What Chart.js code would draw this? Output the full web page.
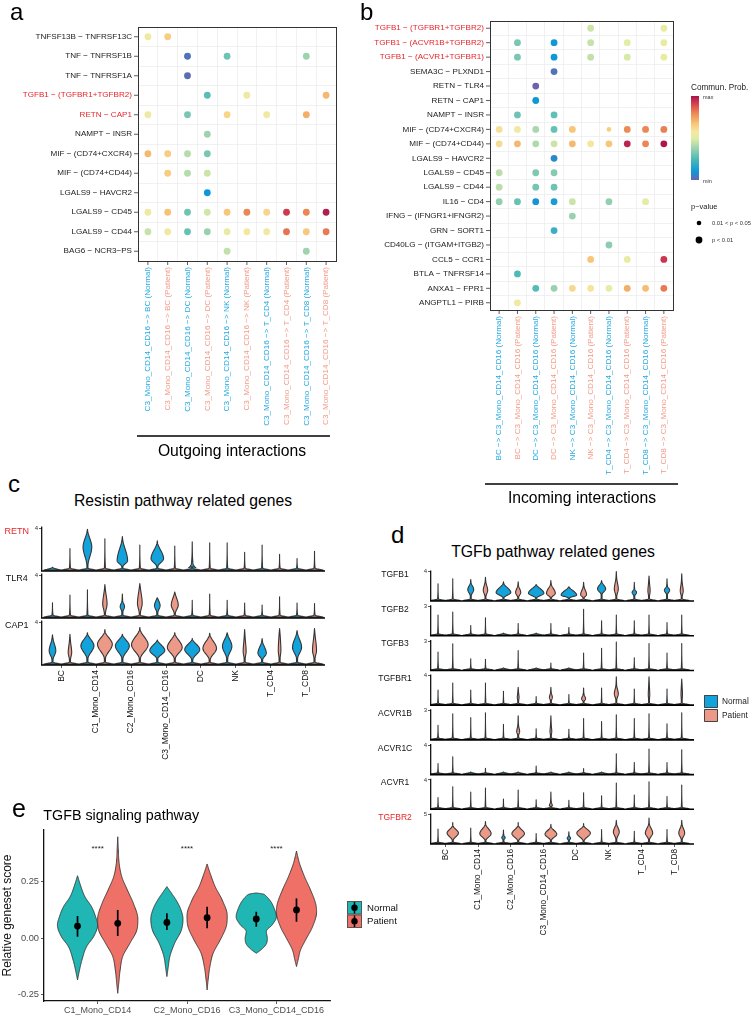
<!DOCTYPE html>
<html><head><meta charset="utf-8">
<script src="https://cdn.jsdelivr.net/npm/chart.js@4.4.0/dist/chart.umd.min.js"></script>
<style>
html,body{margin:0;padding:0;background:#fff;}
#fig{position:relative;width:752px;height:1016px;overflow:hidden;background:#fff;font-family:"Liberation Sans",Arial,sans-serif;}
canvas{position:absolute;}
.t{position:absolute;white-space:nowrap;color:#000;}
</style></head><body><div id="fig"></div>
<script>
const FONT='"Liberation Sans", Arial, Helvetica, sans-serif';
const RED='#e8262b', NORMAL_TXT='#21a9e1', PATIENT_TXT='#f29a88';
const VBLUE='#12a3dc', VSALMON='#ec9987', ETEAL='#1fb6b3', ESALMON='#ee7066';

// ---------- Panel a data ----------
const aRows=['TNFSF13B − TNFRSF13C','TNF − TNFRSF1B','TNF − TNFRSF1A','TGFB1 − (TGFBR1+TGFBR2)','RETN − CAP1','NAMPT − INSR','MIF − (CD74+CXCR4)','MIF − (CD74+CD44)','LGALS9 − HAVCR2','LGALS9 − CD45','LGALS9 − CD44','BAG6 − NCR3−PS'];
const aRedRows=[3,4];
const targets=['BC','DC','NK','T_CD4','T_CD8'];
const conditions=['Normal','Patient'];
const aCols=[]; targets.forEach(t=>conditions.forEach(c=>aCols.push('C3_Mono_CD14_CD16 −> '+t+' ('+c+')')));
const aProb=[
 [0.55,0.65,null,null,null,null,null,null,null,null],
 [null,null,0.03,null,0.30,null,null,null,0.38,null],
 [null,null,0.02,null,null,null,null,null,null,null],
 [null,null,null,0.27,null,0.55,null,null,null,0.70],
 [0.54,null,0.32,null,0.63,null,0.56,null,0.72,null],
 [null,null,null,0.38,null,null,null,null,null,null],
 [0.70,0.65,0.42,0.32,null,null,null,null,null,null],
 [null,0.65,0.42,0.46,null,null,null,null,null,null],
 [null,null,null,0.10,null,null,null,null,null,null],
 [0.55,0.68,0.30,0.47,0.67,0.80,0.63,0.92,0.80,0.98],
 [0.45,0.56,0.29,0.37,0.52,0.58,0.56,0.83,0.66,0.82],
 [null,null,null,null,0.44,null,null,null,0.38,null]
];
const aSmall=[];

// ---------- Panel b data ----------
const bRows=['TGFB1 − (TGFBR1+TGFBR2)','TGFB1 − (ACVR1B+TGFBR2)','TGFB1 − (ACVR1+TGFBR1)','SEMA3C − PLXND1','RETN − TLR4','RETN − CAP1','NAMPT − INSR','MIF − (CD74+CXCR4)','MIF − (CD74+CD44)','LGALS9 − HAVCR2','LGALS9 − CD45','LGALS9 − CD44','IL16 − CD4','IFNG − (IFNGR1+IFNGR2)','GRN − SORT1','CD40LG − (ITGAM+ITGB2)','CCL5 − CCR1','BTLA − TNFRSF14','ANXA1 − FPR1','ANGPTL1 − PIRB'];
const bRedRows=[0,1,2];
const bCols=[]; targets.forEach(t=>conditions.forEach(c=>bCols.push(t+' −> C3_Mono_CD14_CD16 ('+c+')')));
const bProb=[
 [null,null,null,null,null,0.46,null,null,null,0.53],
 [null,0.32,null,0.10,null,0.45,null,0.50,null,0.53],
 [null,0.32,null,0.10,null,0.44,null,0.48,null,0.53],
 [null,null,null,0.03,null,null,null,null,null,null],
 [null,null,0.00,null,null,null,null,null,null,null],
 [null,null,0.10,null,null,null,null,null,null,null],
 [null,0.30,null,0.28,null,null,null,null,null,null],
 [0.60,0.55,0.40,0.29,0.67,null,0.65,0.79,0.80,0.81],
 [0.61,0.70,0.41,0.46,0.70,0.58,0.67,0.96,0.80,0.99],
 [null,null,null,0.07,null,null,null,null,null,null],
 [0.43,null,0.33,0.34,null,null,null,null,null,null],
 [0.43,null,0.31,0.30,null,null,null,null,null,null],
 [0.36,0.29,0.09,0.12,0.46,null,0.36,null,0.51,null],
 [null,null,null,null,0.37,null,null,null,null,null],
 [null,null,null,0.20,null,null,null,null,null,null],
 [null,null,null,null,null,null,0.35,null,null,null],
 [null,null,null,null,null,0.67,null,0.52,null,0.93],
 [null,0.25,null,null,null,null,null,null,null,null],
 [null,null,0.26,0.37,0.62,0.59,0.52,0.72,0.69,0.82],
 [null,0.55,null,null,null,null,null,null,null,null]
];
const bSmall=[[7,6]]; // 0.01 < p < 0.05

// ---------- Panel c data (violin: tip value, body [lo, mid, hi, width]) ----------
const cellTypes=['BC','C1_Mono_CD14','C2_Mono_CD16','C3_Mono_CD14_CD16','DC','NK','T_CD4','T_CD8'];
const cGenes=['RETN','TLR4','CAP1'];
const cTicks=[4,4,4];
const tipRETN=[0,2.05,3.9,3.0,3.2,2.4,2.8,2.3,2.7,2.6,2.6,1.7,2.4,1.5,1.1,1.8];
const bodyRETN=[null,null,[0.4,2.2,3.6,0.5],null,[0.25,0.9,2.8,0.6],null,[0.3,1.1,2.5,0.72],null,[0.15,0.25,0.9,0.4],null,null,null,null,null,null,null];
const tipTLR4=[1.37,2.1,2.6,3.1,2.2,3.2,1.85,2.4,1.6,2.2,1.6,1.35,1.15,1.95,1.35,1.3];
const bodyTLR4=[null,null,null,[0.2,1.25,2.6,0.25],[0.5,1.0,1.5,0.25],[0.2,1.3,2.8,0.27],[0.4,1.1,1.75,0.32],[0.2,1.15,2.2,0.4],null,null,null,null,null,null,null,null];
const tipCAP1=[2.8,2.85,3.0,3.3,2.85,3.5,2.3,3.0,2.45,2.95,3.0,3.3,2.45,3.4,3.2,3.4];
const bodyCAP1=[[0.4,1.27,2.4,0.38],[0.4,1.1,2.2,0.2],[0.5,1.75,2.8,0.75],[0.5,1.9,3.0,0.85],[0.5,1.75,2.7,0.8],[0.5,1.85,3.2,0.95],[0.5,1.3,2.2,0.86],[0.5,1.6,2.8,0.85],[0.4,1.4,2.3,0.86],[0.4,1.5,2.7,0.78],[0.5,1.7,2.8,0.54],[0.5,1.2,2.5,0.17],[0.4,1.05,2.1,0.48],[0.5,1.3,2.8,0.15],[0.5,1.6,2.9,0.52],[0.5,1.3,2.8,0.23]];
const cTips=[tipRETN,tipTLR4,tipCAP1], cBodies=[bodyRETN,bodyTLR4,bodyCAP1];

// ---------- Panel d data ----------
const dGenes=['TGFB1','TGFB2','TGFB3','TGFBR1','ACVR1B','ACVR1C','ACVR1','TGFBR2'];
const dTicks=[4,3,3,4,3,4,4,5];
const tipTGFB1=[2.3,3.0,2.9,3.2,2.6,2.6,2.2,2.75,1.9,2.5,2.75,4.0,2.5,3.4,3.0,3.7];
const bodyTGFB1=[null,null,[0.6,1.5,2.4,0.4],[0.5,1.4,2.5,0.3],[0.35,1.1,2.3,1.0],[0.4,1.1,2.0,0.35],[0.3,1.0,2.1,1.05],[0.3,1.0,2.2,0.6],[0.3,0.75,1.8,1.05],[0.3,0.8,1.9,0.4],[0.8,1.6,2.5,0.55],[0.5,1.6,3.0,0.27],[0.6,1.1,1.6,0.3],[0.5,1.3,2.5,0.15],[0.8,1.4,2.0,0.36],[0.5,1.3,2.5,0.2]];
const tipTGFB2=[2.1,2.4,1.0,1.8,0,1.2,0,1.2,0.8,2.7,1.5,2.1,1.5,2.1,1.3,2.1];
const tipTGFB3=[1.85,2.7,1.15,1.1,0,2.0,0,0.7,0,1.75,2.25,2.9,1.25,2.75,1.75,2.75];
const tipTGFBR1=[2.0,3.0,2.0,3.0,1.85,2.4,1.1,2.4,1.4,2.3,2.3,3.85,2.15,3.85,2.15,3.55];
const bodyTGFBR1=[null,null,null,null,null,[0.5,1.0,1.6,0.12],null,[0.5,1.0,1.6,0.2],null,[0.4,0.8,1.4,0.27],null,[0.6,1.5,2.6,0.27],null,[0.6,1.4,2.4,0.1],null,[0.6,1.4,2.4,0.1]];
const tipACVR1B=[1.45,2.65,2.25,2.75,1.55,2.45,1.1,2.45,1.05,2.15,1.85,2.55,2.15,2.65,1.6,2.75];
const bodyACVR1B=[null,null,null,null,null,[0.4,0.8,1.4,0.2],null,[0.4,0.8,1.4,0.12],null,null,null,null,null,null,null,null];
const tipACVR1C=[1.45,2.4,0,0.8,0,0,1.1,0,0,0.75,0,2.8,1.6,3.45,1.6,3.35];
const tipACVR1=[1.55,3.05,2.3,2.85,1.35,2.6,1.25,2.3,1.15,2.2,1.8,3.55,1.9,3.75,1.7,3.3];
const bodyACVR1=[null,null,null,null,null,null,null,[0.2,0.4,0.9,0.2],null,null,null,null,null,null,null,null];
const tipTGFBR2=[2.5,3.6,2.65,3.8,2.3,3.6,1.7,3.3,2.0,3.45,2.4,4.0,2.1,4.4,2.4,4.0];
const bodyTGFBR2=[null,[0.5,1.8,3.0,0.77],null,[0.5,1.7,3.2,0.77],[0.6,1.0,1.4,0.23],[0.4,1.7,3.0,0.85],null,[0.5,1.6,2.8,0.8],[0.5,0.9,1.3,0.23],[0.4,1.8,3.0,0.92],null,[0.7,2.0,3.3,0.4],null,[0.6,1.8,3.3,0.5],null,[0.6,1.8,3.2,0.4]];
const noBody=new Array(16).fill(null);
const dTips=[tipTGFB1,tipTGFB2,tipTGFB3,tipTGFBR1,tipACVR1B,tipACVR1C,tipACVR1,tipTGFBR2];
const dBodies=[bodyTGFB1,noBody,noBody,bodyTGFBR1,bodyACVR1B,noBody,bodyACVR1,bodyTGFBR2];

// ---------- Panel e data (density outline: [score, relative half-width]) ----------
const eGroups=['C1_Mono_CD14','C2_Mono_CD16','C3_Mono_CD14_CD16'];
const eNormalShape=[
 [[-0.184,0],[-0.14,0.1],[-0.096,0.22],[-0.037,0.45],[0.007,0.8],[0.059,1.0],[0.095,0.9],[0.139,0.7],[0.183,0.37],[0.228,0.17],[0.276,0]],
 [[-0.169,0],[-0.125,0.07],[-0.08,0.15],[-0.023,0.38],[0.036,0.72],[0.085,0.8],[0.13,0.68],[0.17,0.45],[0.2,0.22],[0.228,0]],
 [[-0.066,0],[-0.05,0.25],[-0.025,0.5],[0.0,0.55],[0.03,0.5],[0.06,0.8],[0.095,1.0],[0.13,0.9],[0.165,0.7],[0.185,0.5],[0.196,0.3],[0.2,0]]
];
const ePatientShape=[
 [[-0.243,0],[-0.2,0.05],[-0.14,0.12],[-0.08,0.25],[-0.023,0.6],[0.036,0.95],[0.085,1.0],[0.154,0.78],[0.213,0.48],[0.272,0.2],[0.331,0.07],[0.4,0.025],[0.448,0]],
 [[-0.228,0],[-0.184,0.05],[-0.125,0.14],[-0.066,0.3],[-0.008,0.65],[0.051,0.95],[0.1,1.0],[0.169,0.75],[0.228,0.4],[0.287,0.15],[0.328,0]],
 [[-0.125,0],[-0.096,0.08],[-0.052,0.2],[-0.008,0.45],[0.051,0.8],[0.117,1.0],[0.154,0.95],[0.213,0.7],[0.272,0.4],[0.331,0.15],[0.385,0]]
];
const eNormalMean=[0.054,0.070,0.085], eNormalLow=[0.007,0.037,0.051], eNormalHigh=[0.098,0.110,0.117];
const ePatientMean=[0.066,0.091,0.125], ePatientLow=[0.010,0.044,0.073], ePatientHigh=[0.125,0.139,0.176];
const eSig=['****','****','****'];
const eTicks=[-0.25,0,0.25];

// ---------- helpers ----------
const fig=document.getElementById('fig');
function addCanvas(left,top,w,h){const c=document.createElement('canvas');c.width=w;c.height=h;c.style.left=left+'px';c.style.top=top+'px';c.style.width=w+'px';c.style.height=h+'px';fig.appendChild(c);return c;}
function addText(str,x,baseline,size,align,color){const d=document.createElement('div');d.className='t';d.textContent=str;d.style.fontSize=size+'px';d.style.lineHeight=size+'px';d.style.top=(baseline-0.8465*size)+'px';d.style.color=color||'#000';d.style.left=x+'px';if(align==='center')d.style.transform='translateX(-50%)';fig.appendChild(d);}
const specStops=[[0,'#6c63ad'],[0.1,'#0f98d7'],[0.25,'#4dbab7'],[0.38,'#9fd3ae'],[0.5,'#e2eda5'],[0.58,'#f6e7a0'],[0.68,'#f7c274'],[0.8,'#ec8653'],[0.9,'#d8454f'],[1,'#a8124f']];
function hex2rgb(h){return [parseInt(h.slice(1,3),16),parseInt(h.slice(3,5),16),parseInt(h.slice(5,7),16)];}
function specColor(v){v=Math.max(0,Math.min(1,v));for(let i=0;i<specStops.length-1;i++){const [a,ca]=specStops[i],[b,cb]=specStops[i+1];if(v<=b){const t=(v-a)/(b-a);const A=hex2rgb(ca),B=hex2rgb(cb);return 'rgb('+A.map((x,k)=>Math.round(x+(B[k]-x)*t)).join(',')+')';}}return specStops[specStops.length-1][1];}
const baseOpts={responsive:false,animation:false,devicePixelRatio:1,events:[],plugins:{legend:{display:false},tooltip:{enabled:false}}};

function monoSlopes(xs,ys){const n=xs.length,d=[],m=[];for(let i=0;i<n-1;i++)d.push((ys[i+1]-ys[i])/(xs[i+1]-xs[i]));m[0]=d[0];m[n-1]=d[n-2];for(let i=1;i<n-1;i++)m[i]=(d[i-1]*d[i]<=0)?0:(d[i-1]+d[i])/2;for(let i=0;i<n-1;i++){if(d[i]===0){m[i]=0;m[i+1]=0;}else{const a=m[i]/d[i],b=m[i+1]/d[i],s=a*a+b*b;if(s>9){const t=3/Math.sqrt(s);m[i]=t*a*d[i];m[i+1]=t*b*d[i];}}}return m;}
function drawViolin(ctx,cx,pxHalf,yScale,prof,fill,stroke,lw){
  const xs=prof.map(p=>p[0]),ys=prof.map(p=>p[1]);const m=monoSlopes(xs,ys);const pts=[];
  for(let i=0;i<xs.length-1;i++){const h=xs[i+1]-xs[i];const steps=14;for(let k=0;k<steps;k++){const t=k/steps,t2=t*t,t3=t2*t;const w=(2*t3-3*t2+1)*ys[i]+(t3-2*t2+t)*h*m[i]+(-2*t3+3*t2)*ys[i+1]+(t3-t2)*h*m[i+1];pts.push([yScale.getPixelForValue(xs[i]+t*h),Math.max(0,w)*pxHalf]);}}
  pts.push([yScale.getPixelForValue(xs[xs.length-1]),Math.max(0,ys[ys.length-1])*pxHalf]);
  ctx.beginPath();pts.forEach(([py,hw],i)=>{if(i===0)ctx.moveTo(cx+hw,py);else ctx.lineTo(cx+hw,py);});
  for(let i=pts.length-1;i>=0;i--)ctx.lineTo(cx-pts[i][1],pts[i][0]);
  ctx.closePath();ctx.fillStyle=fill;ctx.fill();ctx.lineJoin='round';ctx.lineWidth=lw;ctx.strokeStyle=stroke;ctx.stroke();
}
function buildProfile(tip,body,rowMax){
  const fh=rowMax*0.05,stem=0.06;
  if(tip<=fh*1.3)return [[0,1.0],[fh,0.12],[fh*1.4,0]];
  const pts=[[0,1.0],[fh,stem]];
  if(body){const [lo,mid,hi,w]=body;pts.push([Math.max(lo,fh*1.6),stem],[mid,w],[Math.min(hi,tip-0.05),stem]);}
  pts.push([tip,0]);return pts;
}

// ---------- dot plot (a, b) ----------
function dotChart(canvas,rows,cols,prob,small,redRows,cfg){
  const pts=[];
  prob.forEach((row,r)=>row.forEach((v,c)=>{if(v===null)return;const s=small.some(p=>p[0]===r&&p[1]===c);pts.push({x:cols[c],y:rows[r],r:s?2.3:3.4,v});}));
  const gridOpt={offset:true,color:'#ebebeb',lineWidth:0.7,drawTicks:false};
  return new Chart(canvas,{type:'bubble',
    data:{datasets:[{data:pts,backgroundColor:c=>specColor(c.raw?c.raw.v:0),borderWidth:0}]},
    options:Object.assign({},baseOpts,{layout:{padding:cfg.pad},
      scales:{
        x:{type:'category',labels:cols,offset:true,grid:gridOpt,border:{display:false},
           ticks:{autoSkip:false,minRotation:90,maxRotation:90,padding:6,font:{family:FONT,size:8.1},color:c=>c.index%2?PATIENT_TXT:NORMAL_TXT},
           afterFit:s=>{s.height=cfg.xH;}},
        y:{type:'category',labels:rows,offset:true,grid:gridOpt,border:{display:false},
           ticks:{autoSkip:false,padding:6,font:{family:FONT,size:8.1},color:c=>redRows.includes(c.index)?RED:'#222'},
           afterFit:s=>{s.width=cfg.yW;}}
      }}),
    plugins:[{id:'frame',afterDraw(chart){const {ctx,chartArea:a,scales:{x,y}}=chart;ctx.save();ctx.strokeStyle='#333';ctx.lineWidth=1;ctx.strokeRect(a.left+0.5,a.top+0.5,a.right-a.left,a.bottom-a.top);ctx.lineWidth=0.8;ctx.beginPath();
      x.ticks.forEach((t,i)=>{const p=x.getPixelForTick(i);ctx.moveTo(p,a.bottom);ctx.lineTo(p,a.bottom+4);});
      y.ticks.forEach((t,i)=>{const p=y.getPixelForTick(i);ctx.moveTo(a.left-4,p);ctx.lineTo(a.left,p);});
      ctx.stroke();ctx.restore();cfg.extra(chart);}}]
  });
}

// Panel a
const cvA=addCanvas(0,0,345,470);
dotChart(cvA,aRows,aCols,aProb,aSmall,aRedRows,{pad:{left:0,top:27,right:9,bottom:0},yW:138,xH:209,extra(chart){
  const ctx=chart.ctx;ctx.save();ctx.strokeStyle='#000';ctx.lineWidth=1.3;ctx.beginPath();ctx.moveTo(137,436);ctx.lineTo(330,436);ctx.stroke();
  ctx.fillStyle='#000';ctx.font='15.7px '+FONT;ctx.textAlign='center';ctx.textBaseline='alphabetic';ctx.fillText('Outgoing interactions',232,455.5);ctx.restore();}});

// Panel b
const cvB=addCanvas(345,0,407,512);
dotChart(cvB,bRows,bCols,bProb,bSmall,bRedRows,{pad:{left:0,top:21,right:79,bottom:0},yW:145,xH:202,extra(chart){
  const ctx=chart.ctx,ox=345;ctx.save();
  ctx.strokeStyle='#000';ctx.lineWidth=1.3;ctx.beginPath();ctx.moveTo(485-ox,484);ctx.lineTo(678-ox,484);ctx.stroke();
  ctx.fillStyle='#000';ctx.font='15.7px '+FONT;ctx.textAlign='center';ctx.textBaseline='alphabetic';ctx.fillText('Incoming interactions',582-ox,503);
  // colour legend
  ctx.textAlign='left';ctx.fillStyle='#222';ctx.font='8.2px '+FONT;ctx.fillText('Commun. Prob.',691-ox,90);
  const g=ctx.createLinearGradient(0,180,0,96);specStops.forEach(([p,c])=>g.addColorStop(p,c));
  ctx.fillStyle=g;ctx.fillRect(691-ox,96,8,84);
  ctx.fillStyle='#333';ctx.font='5.5px '+FONT;ctx.textBaseline='middle';ctx.fillText('max',703-ox,97);ctx.fillText('min',703-ox,181);
  ctx.textBaseline='alphabetic';ctx.font='7.5px '+FONT;ctx.fillStyle='#222';ctx.fillText('p−value',691-ox,209);
  ctx.fillStyle='#000';ctx.beginPath();ctx.arc(699-ox,223,2.3,0,Math.PI*2);ctx.fill();ctx.beginPath();ctx.arc(699-ox,240,3.4,0,Math.PI*2);ctx.fill();
  ctx.fillStyle='#333';ctx.font='5.8px '+FONT;ctx.textBaseline='middle';ctx.fillText('0.01 < p < 0.05',712-ox,223);ctx.fillText('p < 0.01',712-ox,240);
  ctx.restore();}});

// ---------- stacked violin charts (c, d) ----------
function stackedViolins(canvas,genes,ticks,tips,bodies,cfg){
  const positions=[];cellTypes.forEach((t,g)=>{positions.push(g+1-cfg.off,g+1+cfg.off);});
  const scales={x:{type:'linear',min:cfg.xMin,max:cfg.xMax,
    afterBuildTicks:s=>{s.ticks=cellTypes.map((_,i)=>({value:i+1}));},
    ticks:{autoSkip:false,minRotation:90,maxRotation:90,padding:2,font:{family:FONT,size:cfg.xFont},color:'#111',callback:v=>cellTypes[Math.round(v)-1]},
    grid:{drawOnChartArea:false,drawTicks:true,tickLength:3,color:'#333',lineWidth:0.8},border:{display:false},
    afterFit:s=>{s.height=cfg.xH;}}};
  const datasets=[];
  genes.forEach((g,i)=>{
    scales['y'+i]={type:'linear',position:'left',stack:cfg.stack,stackWeight:1,weight:genes.length-i,min:-0.02*ticks[i],max:ticks[i]*cfg.rowFactor,
      afterBuildTicks:s=>{s.ticks=[{value:ticks[i]}];},
      ticks:{font:{family:FONT,size:6},color:'#333',padding:1,callback:v=>String(v)},
      grid:{drawOnChartArea:false,drawTicks:true,tickLength:3,color:'#333',lineWidth:0.8},border:{display:false},
      afterFit:s=>{s.width=cfg.yW;}};
    datasets.push({type:'scatter',yAxisID:'y'+i,data:positions.map((x,j)=>({x,y:tips[i][j]})),pointRadius:0,
      bodies:bodies[i],rowMax:ticks[i],gene:g,tick:ticks[i]});
  });
  return new Chart(canvas,{type:'scatter',data:{datasets},
    options:Object.assign({},baseOpts,{layout:{padding:cfg.pad},scales}),
    plugins:[{id:'violins',afterDatasetsDraw(chart){
      const ctx=chart.ctx,x=chart.scales.x,a=chart.chartArea;ctx.save();
      const pxHalf=Math.abs(x.getPixelForValue(cfg.half)-x.getPixelForValue(0));
      chart.data.datasets.forEach((ds,di)=>{
        const y=chart.scales[chart.getDatasetMeta(di).yAxisID];
        ds.data.forEach((pt,j)=>{drawViolin(ctx,x.getPixelForValue(pt.x),pxHalf,y,buildProfile(pt.y,ds.bodies[j],ds.rowMax),j%2?VSALMON:VBLUE,'#353535',1.1);});
        // axis lines of this row
        ctx.strokeStyle='#000';ctx.lineWidth=1.2;ctx.beginPath();
        const yb=y.getPixelForValue(y.min),yt=y.getPixelForValue(ds.tick*1.04);
        ctx.moveTo(a.left-0.3,yt);ctx.lineTo(a.left-0.3,yb);ctx.stroke();
        ctx.lineWidth=1.6;ctx.beginPath();ctx.moveTo(a.left-1,yb);ctx.lineTo(a.right,yb);ctx.stroke();
        ctx.fillStyle=cfg.red.includes(ds.gene)?RED:'#111';ctx.font=cfg.gFont+'px '+FONT;ctx.textAlign='center';ctx.textBaseline='middle';
        ctx.fillText(ds.gene,a.left+cfg.labelDX,y.getPixelForValue(ds.tick)+3);
      });
      if(cfg.extra)cfg.extra(chart);
      ctx.restore();}}]
  });
}
const cvC=addCanvas(0,515,345,250);
stackedViolins(cvC,cGenes,cTicks,cTips,cBodies,{off:0.25,half:0.25,xMin:0.45,xMax:8.55,xFont:8.5,xH:100,yW:42,stack:'c',rowFactor:1.1,
  pad:{left:0,top:9,right:20,bottom:0},labelDX:-25.3,gFont:9,red:['RETN']});
const cvD=addCanvas(370,560,382,380);
stackedViolins(cvD,dGenes,dTicks,dTips,dBodies,{off:0.225,half:0.225,xMin:0.56,xMax:8.6,xFont:8.2,xH:96,yW:61,stack:'d',rowFactor:1.184,
  pad:{left:0,top:6.3,right:58,bottom:0},labelDX:-36,gFont:8.5,red:['TGFBR2'],extra(chart){
    const ctx=chart.ctx,ox=370,oy=560;
    [['Normal',VBLUE,695],['Patient',VSALMON,709]].forEach(([lab,col,yy])=>{
      ctx.fillStyle=col;ctx.fillRect(704-ox,yy-oy,14,13);ctx.strokeStyle='#444';ctx.lineWidth=1;ctx.strokeRect(704-ox+0.5,yy-oy+0.5,13,12);
      ctx.fillStyle='#222';ctx.font='8.3px '+FONT;ctx.textAlign='left';ctx.textBaseline='middle';ctx.fillText(lab,722-ox,yy-oy+6.7);
    });}});

// ---------- Panel e ----------
const cvE=addCanvas(0,800,410,216);
const eOff=0.225;
const eMeans=[];eGroups.forEach((g,i)=>{eMeans.push({x:i+1-eOff,y:eNormalMean[i]},{x:i+1+eOff,y:ePatientMean[i]});});
new Chart(cvE,{type:'scatter',
  data:{datasets:[{data:eMeans,pointRadius:3.4,pointBackgroundColor:'#000',pointBorderWidth:0}]},
  options:Object.assign({},baseOpts,{layout:{padding:{left:0,top:30,right:80,bottom:0}},
    scales:{
      x:{type:'linear',min:0.4,max:3.6,afterBuildTicks:s=>{s.ticks=eGroups.map((_,i)=>({value:i+1}));},
         ticks:{autoSkip:false,minRotation:0,maxRotation:0,padding:1,font:{family:FONT,size:9},color:'#4d4d4d',callback:v=>eGroups[Math.round(v)-1]},
         grid:{drawOnChartArea:false,drawTicks:true,tickLength:3,color:'#333',lineWidth:0.8},border:{display:true,color:'#111',width:1.3},
         afterFit:s=>{s.height=15;}},
      y:{type:'linear',min:-0.277,max:0.478,afterBuildTicks:s=>{s.ticks=eTicks.map(v=>({value:v}));},
         ticks:{padding:2,font:{family:FONT,size:9.3},color:'#4d4d4d',callback:v=>v.toFixed(2)},
         grid:{drawOnChartArea:false,drawTicks:true,tickLength:3,color:'#333',lineWidth:0.8},border:{display:true,color:'#111',width:1.3},
         title:{display:true,text:'Relative geneset score',font:{family:FONT,size:12},color:'#111',padding:0},
         afterFit:s=>{s.width=44;}}
    }}),
  plugins:[{id:'eViolins',beforeDatasetsDraw(chart){
      const ctx=chart.ctx,x=chart.scales.x,y=chart.scales.y;ctx.save();
      const pxHalf=Math.abs(x.getPixelForValue(eOff)-x.getPixelForValue(0));
      eGroups.forEach((g,i)=>{
        drawViolin(ctx,x.getPixelForValue(i+1-eOff),pxHalf,y,eNormalShape[i],ETEAL,'#333',0.9);
        drawViolin(ctx,x.getPixelForValue(i+1+eOff),pxHalf,y,ePatientShape[i],ESALMON,'#333',0.9);
      });
      ctx.strokeStyle='#000';ctx.lineWidth=1.7;
      eGroups.forEach((g,i)=>{
        [[i+1-eOff,eNormalLow[i],eNormalHigh[i]],[i+1+eOff,ePatientLow[i],ePatientHigh[i]]].forEach(([xv,lo,hi])=>{
          const px=x.getPixelForValue(xv);ctx.beginPath();ctx.moveTo(px,y.getPixelForValue(lo));ctx.lineTo(px,y.getPixelForValue(hi));ctx.stroke();});
      });
      ctx.restore();},
    afterDraw(chart){
      const ctx=chart.ctx,x=chart.scales.x,y=chart.scales.y;ctx.save();
      ctx.fillStyle='#222';ctx.font='8px '+FONT;ctx.textAlign='center';ctx.textBaseline='middle';
      eGroups.forEach((g,i)=>ctx.fillText(eSig[i],x.getPixelForValue(i+1),y.getPixelForValue(0.40)+1.5));
      const oy=800;
      [['Normal',ETEAL,901],['Patient',ESALMON,914.5]].forEach(([lab,col,yy])=>{
        ctx.fillStyle=col;ctx.fillRect(347,yy-oy,15,13.5);ctx.strokeStyle='#555';ctx.lineWidth=1;ctx.strokeRect(347.5,yy-oy+0.5,14,12.5);
        ctx.strokeStyle='#000';ctx.lineWidth=1.5;ctx.beginPath();ctx.moveTo(354.5,yy-oy+1);ctx.lineTo(354.5,yy-oy+12.5);ctx.stroke();
        ctx.fillStyle='#000';ctx.beginPath();ctx.arc(354.5,yy-oy+6.8,3.2,0,Math.PI*2);ctx.fill();
        ctx.fillStyle='#111';ctx.font='9.6px '+FONT;ctx.textAlign='left';ctx.fillText(lab,367,yy-oy+7);
      });
      ctx.restore();}}]
});

// ---------- panel letters and titles ----------
addText('a',10,20.7,24);
addText('b',360,20.7,24);
addText('c',8,492.5,24);
addText('d',391,543.3,24);
addText('e',12,817.3,25);
addText('Resistin pathway related genes',183,506,15.7,'center');
addText('TGFb pathway related genes',553,557.3,15.8,'center');
addText('TGFB signaling pathway',43.3,820.5,14.3);
</script></body></html>
